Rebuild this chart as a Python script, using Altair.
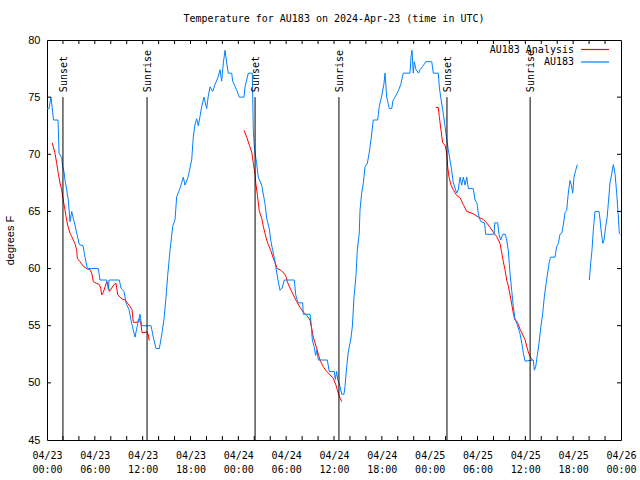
import altair as alt
import pandas as pd

MONO = "DejaVu Sans Mono"
SANS = "Liberation Sans"

TITLE = "Temperature for AU183 on 2024-Apr-23 (time in UTC)"

# ---- observed station temperature (hours since 2024-04-23 00:00 UTC) ----
blue_h1 = [0.00, 0.25, 0.50, 0.82, 1.38, 1.51, 1.84, 1.97, 2.13, 2.26, 2.47, 2.67, 2.89, 3.10, 3.26, 3.51,
           3.73, 4.05, 4.52, 4.77, 5.06, 6.44, 6.65, 7.49, 7.69, 7.78, 9.07, 9.28, 9.66, 9.91, 10.29, 10.62,
           11.04, 11.33, 11.67, 11.88, 13.05, 13.33, 13.67, 14.09, 14.39, 14.68, 14.93, 15.14, 15.43, 15.77,
           16.06, 16.27, 16.68, 17.10, 17.31, 17.69, 18.15, 18.35, 18.56, 18.78, 18.98, 19.19, 19.41, 19.69,
           20.03, 20.23, 20.45, 20.79, 21.07, 21.49, 21.70, 21.91, 22.12, 22.33, 22.54, 22.74, 23.17, 23.29,
           23.80, 24.12, 24.71, 24.84, 25.25, 25.75, 25.88, 26.03, 26.30, 26.50, 26.93, 27.34, 27.56, 27.88,
           28.06, 28.31, 28.60, 28.81, 29.01, 29.23, 29.48, 29.77, 31.02, 31.20, 31.36, 31.52, 32.07, 32.15,
           32.99, 33.12, 33.28, 33.49, 33.70, 33.87, 34.03, 35.16, 35.41, 36.04, 36.16, 36.34, 36.46, 36.75,
           36.97, 37.25, 37.38, 37.59, 37.79, 38.09, 38.30, 38.51, 38.76, 38.92, 39.17, 39.26, 39.47, 39.68,
           39.89, 40.18, 40.43, 40.64, 40.93, 41.48, 41.68, 41.98, 42.27, 42.40, 42.61, 42.94, 43.24, 43.40,
           43.65, 44.03, 44.37, 44.69, 45.53, 45.66, 45.78, 45.95, 46.07, 46.29, 46.62, 46.79, 47.13, 47.54,
           48.26, 48.46, 49.08, 49.21, 49.38, 49.64, 49.92, 50.14, 50.34, 50.55, 50.76, 50.96, 51.39, 51.59,
           51.81, 52.02, 52.22, 52.44, 52.65, 52.85, 53.47, 53.69, 53.94, 54.10, 54.23, 54.44, 54.88, 55.03,
           56.07, 56.16, 56.53, 56.70, 56.91, 57.16, 57.49, 57.66, 57.86, 58.08, 58.29, 58.49, 58.70, 58.99,
           59.33, 59.55, 59.75, 59.96, 61.00, 61.13, 61.30, 61.50, 61.72, 61.93, 62.18, 62.38, 62.59, 62.81,
           63.01, 63.16, 63.72, 63.93, 64.14, 64.35, 64.56, 64.76, 64.98, 65.19, 65.39, 65.60, 65.77, 65.94,
           66.11, 66.32, 66.52]
blue_v1 = [74.0, 74.0, 75.0, 73.0, 73.0, 70.1, 69.7, 68.9, 68.5, 67.7, 66.9, 66.0, 64.1, 65.0, 64.5, 63.8,
           63.1, 62.1, 62.0, 61.0, 60.0, 60.0, 59.0, 59.0, 58.2, 59.0, 59.0, 58.3, 58.0, 57.0, 56.4, 55.2,
           54.0, 55.0, 56.0, 55.0, 55.0, 54.0, 53.0, 53.0, 54.2, 55.6, 57.5, 59.4, 61.6, 63.7,
           64.3, 66.3, 67.0, 68.0, 67.3, 68.0, 69.5, 71.5, 72.6, 73.1, 72.5, 73.3, 74.2, 75.0,
           74.0, 75.1, 75.9, 75.5, 76.1, 76.8, 77.4, 76.4, 78.0, 79.1, 78.0, 77.1, 77.1, 76.4,
           75.6, 75.0, 75.0, 75.9, 77.1, 77.1, 72.1, 70.4, 69.2, 68.0, 67.3, 65.7, 64.4, 63.5,
           62.5, 61.6, 60.6, 59.7, 58.85, 58.1, 58.3, 59.0, 59.0, 57.7, 57.3, 57.0, 57.0, 56.0,
           56.0, 55.3, 53.75, 53.2, 52.4, 52.9, 52.0, 52.0, 51.0, 51.0, 50.3, 51.0, 50.3, 49.7,
           49.0, 49.0, 49.7, 51.4, 52.7, 53.75, 54.9, 57.5, 59.4, 61.6, 63.1, 65.1, 66.6, 67.5,
           68.9, 69.2, 70.2, 71.25, 73.0, 73.0, 74.2, 75.1, 76.2, 77.1, 75.0, 74.0, 74.0, 74.7,
           75.0, 75.5, 76.1, 77.1, 77.1, 78.5, 79.1, 77.1, 78.1, 77.4, 77.1, 77.4, 77.7, 78.1,
           78.1, 77.1, 77.1, 75.9, 75.0, 73.9, 72.5, 71.3, 70.4, 69.5, 68.6, 67.5, 66.6, 66.9,
           68.0, 67.3, 68.0, 67.3, 68.0, 67.0, 67.0, 66.0, 65.7, 64.8, 64.4, 64.1, 64.0, 63.0,
           63.0, 64.0, 64.0, 63.0, 62.5, 63.0, 63.0, 62.5, 61.6, 59.6, 58.1, 56.7, 55.6, 55.1,
           54.3, 53.5, 52.6, 51.9, 52.0, 51.1, 51.4, 52.4, 53.5, 54.8, 56.1, 57.5, 58.6, 59.7,
           60.6, 61.0, 61.0, 61.9, 62.2, 63.0, 63.1, 63.8, 64.9, 65.1, 66.6, 67.7, 67.3, 66.6,
           68.0, 68.6, 69.1]
blue_h2 = [68.03, 68.20, 68.36, 68.53, 68.74, 69.24, 69.37, 69.49, 69.71, 69.87, 70.08, 70.25, 70.41,
           70.62, 70.84, 71.04, 71.25, 71.46, 71.66, 71.79, 71.94]
blue_v2 = [59.0, 60.5, 61.6, 63.4, 65.0, 65.0, 64.3, 63.4, 62.2, 62.5, 63.7, 64.4, 65.7,
           67.5, 68.3, 69.1, 68.3, 66.6, 64.6, 63.1, 63.0]

# ---- analysis temperature ----
red_h1 = [0.66, 1.00, 1.22, 1.42, 1.63, 1.84, 2.04, 2.26, 2.47, 2.67, 2.89, 3.10, 3.30, 3.51, 3.73, 3.80,
          4.14, 4.55, 4.98, 5.39, 5.61, 5.81, 6.23, 6.56, 6.74, 6.86, 7.06, 7.28, 7.49, 7.69, 7.81, 8.12,
          8.40, 8.66, 8.87, 9.16, 9.50, 9.82, 10.07, 10.41, 10.66, 10.83, 11.33, 11.58, 11.79, 11.92, 12.29,
          12.51, 12.71, 12.83]
red_v1 = [71.0, 70.1, 69.2, 68.3, 67.5, 66.9, 66.0, 65.1, 64.2, 63.6, 63.1, 62.8, 62.5, 62.2, 61.6, 60.9,
          60.6, 60.2, 60.0, 59.9, 59.6, 58.85, 58.7, 58.6, 58.3, 57.7, 57.9, 58.4, 58.85, 58.6, 58.0, 58.3,
          58.6, 58.7, 57.7, 57.5, 57.3, 57.25, 57.0, 56.7, 56.4, 55.3, 55.3, 55.6, 55.1, 54.4, 54.4,
          54.5, 54.2, 53.7]
red_h2 = [24.71, 25.05, 25.38, 25.68, 25.88, 26.09, 26.18, 26.38, 26.63, 26.93, 27.13, 27.34, 27.56, 27.76,
          28.06, 28.39, 28.73, 28.89, 29.23, 29.73, 29.98, 30.14, 30.48, 30.89, 31.32, 31.74, 32.15, 32.58,
          32.99, 33.20, 33.40, 33.62, 33.83, 34.24, 34.66, 35.08, 35.50, 35.91, 36.25, 36.41, 36.67, 36.97]
red_v2 = [72.1, 71.5, 70.8, 70.2, 69.2, 68.3, 67.5, 66.5, 65.0, 64.4, 63.7, 63.1, 62.5, 62.1,
          61.6, 60.9, 60.3, 60.0, 59.9, 59.6, 59.3, 58.85, 58.3, 57.7, 57.1, 56.6, 56.2, 55.9,
          55.5, 54.8, 54.0, 53.5, 53.0, 52.0, 51.4, 51.0, 50.7, 50.4, 49.8, 49.4, 48.8, 48.35]
red_h3 = [48.76, 49.08, 49.21, 49.42, 49.64, 49.92, 50.14, 50.26, 50.43, 50.68, 50.96, 51.39, 51.81, 52.22,
          52.65, 53.06, 53.47, 54.10, 54.73, 55.15, 55.57, 55.98, 56.41, 56.82, 57.04, 57.24, 57.45, 57.66,
          57.86, 58.08, 58.29, 58.49, 58.70, 58.91, 59.12, 59.33, 59.75, 59.96, 60.17, 60.37, 60.59, 60.88]
red_v3 = [74.1, 74.1, 73.3, 72.1, 71.0, 70.8, 70.1, 68.9, 68.0, 67.3, 66.9, 66.4, 66.2, 65.6,
          65.0, 64.9, 64.8, 64.5, 64.3, 64.0, 63.6, 63.2, 62.8, 62.2, 61.4, 60.6, 59.9, 59.0,
          58.5, 57.7, 56.9, 56.1, 55.5, 55.4, 55.1, 54.7, 54.1, 53.8, 53.2, 52.7, 52.3, 52.0]

# ---- sunrise / sunset markers ----
sun_hours = [2.0, 12.55, 26.1, 36.62, 50.17, 60.6]
sun_labels = ["Sunset", "Sunrise", "Sunset", "Sunrise", "Sunset", "Sunrise"]

series_names = ["AU183 Analysis", "AU183"]
series_colors = ["#ff0000", "#0080ff"]

x_label_values = list(range(0, 73, 6))
x_tick_values = list(range(2, 72, 2))
y_tick_values = [45, 50, 55, 60, 65, 70, 75, 80]

W, H = 574, 400
TL = 4  # inward tick length


def frame(h, v, seg):
    return pd.DataFrame({"hours": h, "temp": v, "seg": seg})


red_df = pd.concat([frame(red_h1, red_v1, "r1"), frame(red_h2, red_v2, "r2"), frame(red_h3, red_v3, "r3")])
blue_df = pd.concat([frame(blue_h1, blue_v1, "b1"), frame(blue_h2, blue_v2, "b2")])
sun_df = pd.DataFrame({"hours": sun_hours, "label": sun_labels})

x_scale = alt.Scale(domain=[0, 72], nice=False, zero=False)
y_scale = alt.Scale(domain=[45, 80], nice=False, zero=False)

x_axis = alt.Axis(
    values=x_label_values,
    labelExpr="['04/' + (23 + floor(datum.value / 24)), ((datum.value % 24) < 10 ? '0' : '') + (datum.value % 24) + ':00']",
    domain=False, ticks=False, grid=False, title=None,
    labelFont=MONO, labelFontSize=10, labelColor="black",
    labelPadding=10, labelLineHeight=14, labelFlush=False, labelOverlap=False,
)
y_axis = alt.Axis(
    values=y_tick_values, domain=False, ticks=False, grid=False,
    title="degrees F", titleFont=SANS, titleFontSize=11, titleFontWeight="normal",
    titleColor="black", titlePadding=12,
    labelFont=SANS, labelFontSize=11, labelColor="black", labelPadding=7,
)

X = alt.X("hours:Q", scale=x_scale, axis=x_axis)
Y = alt.Y("temp:Q", scale=y_scale, axis=y_axis)

red = alt.Chart(red_df).mark_line(color=series_colors[0], strokeWidth=1, clip=True).encode(
    x=X, y=Y, detail="seg:N")
blue = alt.Chart(blue_df).mark_line(color=series_colors[1], strokeWidth=1, clip=True).encode(
    x=X, y=Y, detail="seg:N")

sun_rules = alt.Chart(sun_df).mark_rule(color="black", strokeWidth=1).encode(
    x=X,
    y=alt.Y(datum=45, scale=y_scale, axis=y_axis),
    y2=alt.Y2(datum=75),
)
sun_text = alt.Chart(sun_df).mark_text(
    angle=270, align="left", baseline="middle", font=MONO, fontSize=10, color="black", dx=5, dy=1
).encode(
    x=X,
    y=alt.Y(datum=75, scale=y_scale, axis=y_axis),
    text="label:N",
)

xt_df = pd.DataFrame({"hours": x_tick_values})
yt_df = pd.DataFrame({"temp": y_tick_values[1:-1]})
xt_bottom = alt.Chart(xt_df).mark_rule(color="black", strokeWidth=1).encode(
    x=X, y=alt.value(H), y2=alt.value(H - TL))
xt_top = alt.Chart(xt_df).mark_rule(color="black", strokeWidth=1).encode(
    x=X, y=alt.value(0), y2=alt.value(TL))
yt_left = alt.Chart(yt_df).mark_rule(color="black", strokeWidth=1).encode(
    y=Y, x=alt.value(0), x2=alt.value(TL))
yt_right = alt.Chart(yt_df).mark_rule(color="black", strokeWidth=1).encode(
    y=Y, x=alt.value(W), x2=alt.value(W - TL))

legend_layers = []
for i, (name, col) in enumerate(zip(series_names, series_colors)):
    ly = 9.5 + 12.5 * i
    ldf = pd.DataFrame({"label": [name]})
    legend_layers.append(
        alt.Chart(ldf).mark_text(align="right", baseline="middle", font=MONO, fontSize=10, color="black").encode(
            x=alt.value(527), y=alt.value(ly), text="label:N"))
    legend_layers.append(
        alt.Chart(ldf).mark_rule(color=col, strokeWidth=1.2).encode(
            x=alt.value(534), x2=alt.value(562), y=alt.value(ly)))

chart = alt.layer(
    red, blue, sun_rules, sun_text, xt_bottom, xt_top, yt_left, yt_right, *legend_layers
).properties(
    width=W, height=H,
    title=alt.TitleParams(TITLE, font=MONO, fontSize=10, fontWeight="normal", color="black",
                          anchor="middle", offset=10),
    autosize=alt.AutoSizeParams(type="none"),
    padding={"left": 47, "top": 40, "right": 19, "bottom": 40},
    background="white",
).configure_view(stroke="black", strokeWidth=1)

chart.save("out.html", embed_options={"renderer": "svg", "actions": False})
